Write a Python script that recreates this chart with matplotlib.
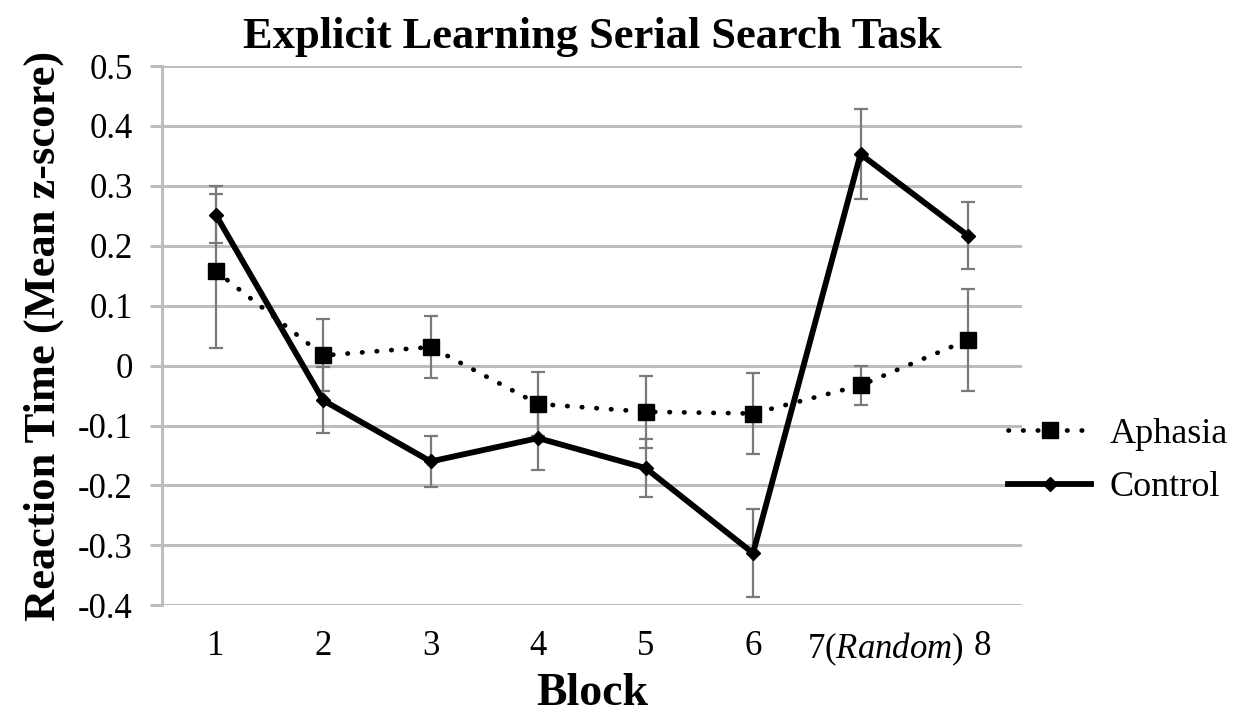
"""Explicit learning serial search task: reaction time by block."""

import matplotlib

matplotlib.use("Agg")
import matplotlib.pyplot as plt  # noqa: E402
import matplotlib.transforms as mtransforms  # noqa: E402

plt.rcParams["font.family"] = ["Liberation Serif", "DejaVu Serif"]
plt.rcParams["mathtext.fontset"] = "custom"
plt.rcParams["mathtext.rm"] = "Liberation Serif"
plt.rcParams["mathtext.it"] = "Liberation Serif:italic"

blocks = [1, 2, 3, 4, 5, 6, 7, 8]
block_labels = ["1", "2", "3", "4", "5", "6", r"7($\mathit{Random}$)", "8"]

aphasia_mean = [0.158, 0.017, 0.031, -0.064, -0.077, -0.080, -0.033, 0.043]
aphasia_err = [0.128, 0.060, 0.051, 0.053, 0.060, 0.068, 0.033, 0.085]

control_mean = [0.252, -0.058, -0.160, -0.121, -0.171, -0.313, 0.353, 0.217]
control_err = [0.047, 0.055, 0.042, 0.054, 0.048, 0.073, 0.075, 0.056]

grid_color = "#bdbdbd"
err_color = "#7a7a7a"

fig = plt.figure(figsize=(12.46, 7.18), dpi=100)
ax = fig.add_axes([0.130, 0.157, 0.690, 0.751])

ax.errorbar(blocks, aphasia_mean, yerr=aphasia_err, fmt="none",
            ecolor=err_color, elinewidth=1.6, capsize=5, capthick=1.6,
            zorder=3)
ax.errorbar(blocks, control_mean, yerr=control_err, fmt="none",
            ecolor=err_color, elinewidth=1.6, capsize=5, capthick=1.6,
            zorder=3)

ax.plot(blocks, aphasia_mean, color="black", linestyle=(0, (0.1, 3.0)),
        dash_capstyle="round", linewidth=3.4, marker="s", markersize=12,
        label="Aphasia", zorder=4)
ax.plot(blocks, control_mean, color="black", linestyle="-", linewidth=4.2,
        marker="D", markersize=7, label="Control", zorder=5)

ax.set_xlim(0.5, 8.5)
ax.set_ylim(-0.4, 0.5)
ax.set_yticks([-0.4, -0.3, -0.2, -0.1, 0, 0.1, 0.2, 0.3, 0.4, 0.5])
ax.set_yticklabels(["-0.4", "-0.3", "-0.2", "-0.1", "0", "0.1", "0.2",
                    "0.3", "0.4", "0.5"])
ax.set_xticks(blocks)
ax.set_xticklabels(block_labels)

ax.yaxis.grid(True, color=grid_color, linewidth=2.2, zorder=0)
ax.set_axisbelow(True)
for side in ["top", "right", "bottom"]:
    ax.spines[side].set_visible(False)
ax.spines["left"].set_color(grid_color)
ax.spines["left"].set_linewidth(2.2)

ax.tick_params(axis="y", length=9, width=2.2, color=grid_color,
               labelsize=25, pad=12)
ax.tick_params(axis="x", length=0, labelsize=25, pad=18)

# shift the last two category labels slightly right, as in the original
offsets = {6: 25, 7: 14}
for i, lab in enumerate(ax.get_xticklabels()):
    if i in offsets:
        lab.set_transform(lab.get_transform() + mtransforms.ScaledTranslation(
            offsets[i] / 100, 0, fig.dpi_scale_trans))

ax.set_title("Explicit Learning Serial Search Task", fontsize=32,
             fontweight="bold", pad=13)
ax.set_xlabel("Block", fontsize=33, fontweight="bold", labelpad=4)
ax.set_ylabel("Reaction Time (Mean z-score)", fontsize=32,
              fontweight="bold", labelpad=10)

fig.legend(loc="center left", bbox_to_anchor=(0.783, 0.358), frameon=False,
           fontsize=26, handlelength=2.3, handletextpad=0.5,
           labelspacing=0.55)

fig.savefig("out.png", dpi=100)
plt.close(fig)
